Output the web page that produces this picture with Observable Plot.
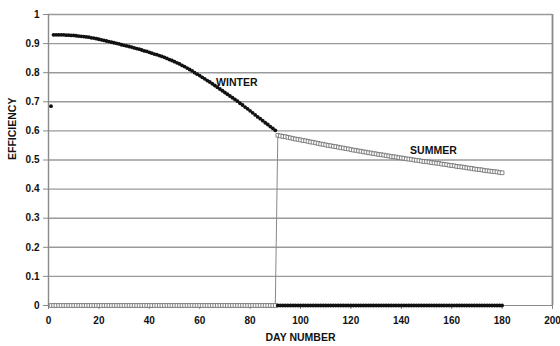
<!DOCTYPE html>
<html>
<head>
<meta charset="utf-8">
<script src="https://cdn.jsdelivr.net/npm/d3@7"></script>
<script src="https://cdn.jsdelivr.net/npm/@observablehq/plot@0.6"></script>
<style>
  html, body { margin: 0; padding: 0; background: #fff; }
  #chart svg { display: block; }
</style>
</head>
<body>
<div id="chart"></div>
<script>
// Day numbers 1..180
const days = d3.range(1, 181);

// WINTER efficiency, days 1-180 (values for days 1-90, zero afterwards)
const winterValues = [
  0.685, 0.930, 0.930, 0.930, 0.930, 0.930, 0.929, 0.929, 0.928, 0.928,
  0.927, 0.926, 0.925, 0.924, 0.923, 0.922, 0.920, 0.919, 0.917, 0.915,
  0.913, 0.911, 0.909, 0.907, 0.905, 0.903, 0.901, 0.899, 0.896, 0.894,
  0.892, 0.890, 0.888, 0.885, 0.883, 0.881, 0.878, 0.875, 0.873, 0.870,
  0.867, 0.864, 0.862, 0.859, 0.856, 0.853, 0.849, 0.845, 0.842, 0.838,
  0.834, 0.830, 0.825, 0.821, 0.816, 0.811, 0.806, 0.800, 0.795, 0.790,
  0.784, 0.779, 0.773, 0.768, 0.762, 0.756, 0.750, 0.744, 0.738, 0.732,
  0.726, 0.720, 0.714, 0.708, 0.702, 0.695, 0.689, 0.682, 0.676, 0.669,
  0.662, 0.655, 0.648, 0.642, 0.635, 0.628, 0.622, 0.615, 0.609, 0.602,
  0,0,0,0,0,0,0,0,0,0, 0,0,0,0,0,0,0,0,0,0, 0,0,0,0,0,0,0,0,0,0,
  0,0,0,0,0,0,0,0,0,0, 0,0,0,0,0,0,0,0,0,0, 0,0,0,0,0,0,0,0,0,0,
  0,0,0,0,0,0,0,0,0,0, 0,0,0,0,0,0,0,0,0,0, 0,0,0,0,0,0,0,0,0,0
];

// SUMMER efficiency, days 1-180 (zero for days 1-90)
const summerValues = [
  0,0,0,0,0,0,0,0,0,0, 0,0,0,0,0,0,0,0,0,0, 0,0,0,0,0,0,0,0,0,0,
  0,0,0,0,0,0,0,0,0,0, 0,0,0,0,0,0,0,0,0,0, 0,0,0,0,0,0,0,0,0,0,
  0,0,0,0,0,0,0,0,0,0, 0,0,0,0,0,0,0,0,0,0, 0,0,0,0,0,0,0,0,0,0,
  0.585, 0.583, 0.581, 0.580, 0.578, 0.576, 0.574, 0.572, 0.571, 0.569,
  0.567, 0.566, 0.564, 0.562, 0.561, 0.559, 0.557, 0.555, 0.554, 0.552,
  0.550, 0.549, 0.547, 0.546, 0.544, 0.542, 0.541, 0.539, 0.538, 0.536,
  0.534, 0.533, 0.531, 0.530, 0.528, 0.527, 0.525, 0.524, 0.522, 0.521,
  0.519, 0.518, 0.517, 0.515, 0.514, 0.512, 0.511, 0.510, 0.508, 0.507,
  0.506, 0.504, 0.503, 0.502, 0.500, 0.499, 0.498, 0.496, 0.495, 0.494,
  0.493, 0.491, 0.490, 0.489, 0.488, 0.486, 0.485, 0.484, 0.482, 0.481,
  0.480, 0.478, 0.477, 0.476, 0.475, 0.473, 0.472, 0.471, 0.469, 0.468,
  0.467, 0.466, 0.464, 0.463, 0.462, 0.461, 0.460, 0.459, 0.457, 0.456
];

const xTicks = [0, 20, 40, 60, 80, 100, 120, 140, 160, 180, 200];
const yTicks = [0, 0.1, 0.2, 0.3, 0.4, 0.5, 0.6, 0.7, 0.8, 0.9, 1];
const seriesLabels = [
  {text: "WINTER", day: 66.5, value: 0.766},
  {text: "SUMMER", day: 143.5, value: 0.533}
];

const winter = days.map((d, i) => ({day: d, value: winterValues[i]}));
const summer = days.map((d, i) => ({day: d, value: summerValues[i]}));

const font = "Liberation Sans, Arial, sans-serif";

const chart = Plot.plot({
  width: 560,
  height: 346,
  marginLeft: 48,
  marginRight: 8,
  marginTop: 14,
  marginBottom: 41,
  style: {fontFamily: font, fontSize: "10px", fontWeight: "bold", color: "#111", background: "#fff"},
  x: {domain: [0, 200]},
  y: {domain: [0, 1]},
  marks: [
    Plot.ruleY(yTicks.filter(v => v > 0), {stroke: "#9a9a9a", strokeWidth: 1.4}),
    Plot.ruleX([0], {stroke: "#8a8a8a", strokeWidth: 1.4}),
    Plot.ruleX([200], {stroke: "#8a8a8a", strokeWidth: 1.8}),
    Plot.ruleY([0], {stroke: "#8a8a8a", strokeWidth: 1}),
    Plot.axisY({ticks: yTicks, tickSize: 5, tickPadding: 4, tickFormat: d => String(+d.toFixed(1)), label: null, stroke: "#8a8a8a", fill: "#111"}),
    Plot.axisX({ticks: xTicks, tickSize: 4, tickPadding: 7, tickFormat: d => String(d), label: null, stroke: "#8a8a8a", fill: "#111"}),
    Plot.line(summer, {x: "day", y: "value", stroke: "#888", strokeWidth: 1}),
    Plot.dot(summer, {x: "day", y: "value", symbol: "square", r: 2.1, stroke: "#6a6a6a", strokeWidth: 0.8, fill: "#fff"}),
    Plot.dot(winter, {x: "day", y: "value", r: 1.9, fill: "#111", stroke: null}),
    Plot.text(seriesLabels, {x: "day", y: "value", text: "text", textAnchor: "start", fontSize: 10.5, fontWeight: "bold", fill: "#111"}),
    Plot.text(["EFFICIENCY"], {frameAnchor: "left", dx: -36, rotate: -90, fontSize: 10.5, fontWeight: "bold", fill: "#111"}),
    Plot.text(["DAY NUMBER"], {frameAnchor: "bottom", dy: 35, fontSize: 10.5, fontWeight: "bold", fill: "#111"})
  ]
});

document.getElementById("chart").appendChild(chart);
</script>
</body>
</html>
